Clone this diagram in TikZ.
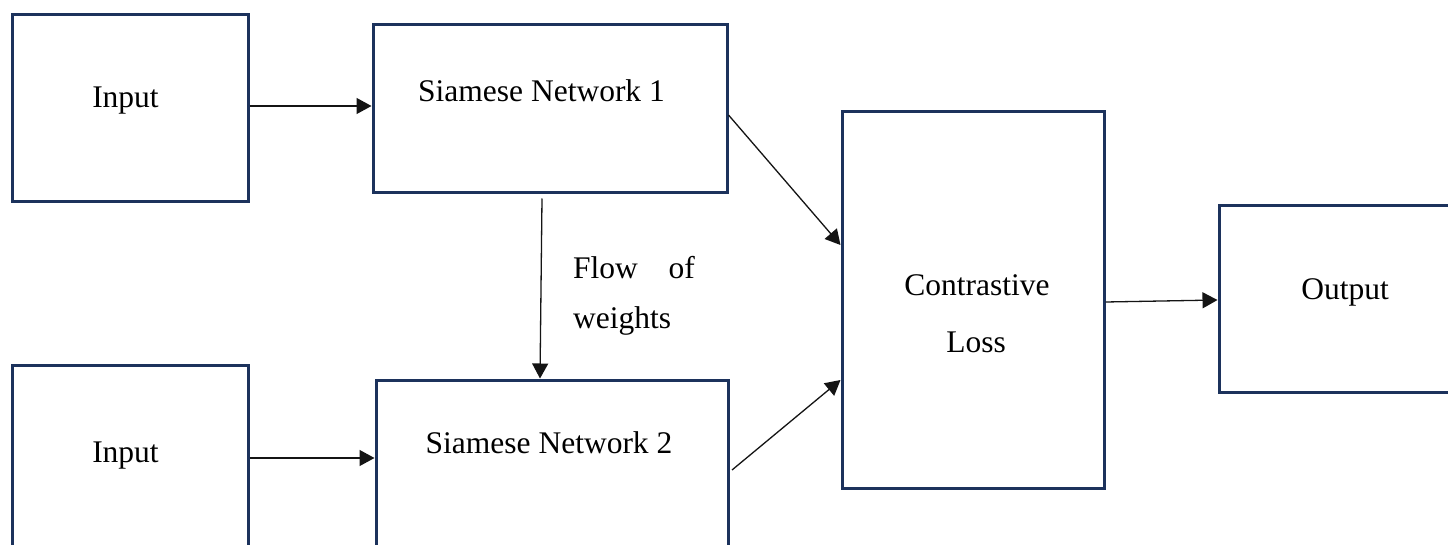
\documentclass[tikz,border=0pt]{standalone}
\usepackage{fontspec}
\setmainfont{Liberation Serif}
\usetikzlibrary{arrows.meta,calc}
\definecolor{boxblue}{RGB}{28,50,92}
\definecolor{arrgray}{RGB}{20,20,20}
\tikzset{
  box/.style={draw=boxblue, line width=3pt, fill=none, inner sep=0pt},
  arr/.style={draw=arrgray, line width=1.3pt, -{Triangle[length=15pt,width=16pt]}},
  lbl/.style={inner sep=0pt, anchor=base, font={\fontsize{31.5}{38}\selectfont}}
}
\begin{document}
\begin{tikzpicture}[x=1pt,y=-1pt]
\clip (0,0) rectangle (1448,545);
\fill[white] (0,0) rectangle (1448,545);
% boxes
\node[box, minimum width=236pt, minimum height=187pt] (in1) at (130,108.5) {};
\node[box, minimum width=354pt, minimum height=168pt] (sn1) at (550,109) {};
\node[box, minimum width=262pt, minimum height=376pt] (cl) at (973,300) {};
\node[box, minimum width=260pt, minimum height=186pt] (out) at (1349,299) {};
\node[box, minimum width=236pt, minimum height=200pt] (in2) at (130,465) {};
\node[box, minimum width=352pt, minimum height=190pt] (sn2) at (552,475) {};
% texts
\node[lbl] (tin1) at (125.5,108) {Input};
\node[lbl] (tsn1) at (541.5,102) {Siamese Network 1};
\node[lbl] (tin2) at (125.5,462) {Input};
\node[lbl] (tsn2) at (549,453) {Siamese Network 2};
\node[lbl] (tout) at (1345,299) {Output};
\node[lbl] (tcl1) at (977,296) {Contrastive};
\node[lbl] (tcl2) at (976,352) {Loss};
\node[lbl, anchor=base west] (tfl1) at (573,279) {Flow};
\node[lbl, anchor=base east] (tfl2) at (695,279) {of};
\node[lbl, anchor=base west] (tfl3) at (573,328) {weights};
% connectors
\draw[arr] ([yshift=2.5pt]in1.east) -- ([yshift=2.5pt]in1.east -| sn1.west);
\draw[arr] ([yshift=7pt]in2.east) -- ([yshift=7pt]in2.east -| sn2.west);
\draw[arr] ([xshift=-8pt,yshift=-4pt]sn1.south) -- ([xshift=-12pt]sn2.north);
\draw[arr] ([yshift=-6pt]sn1.east) -- ([yshift=55pt]cl.west);
\draw[arr] ([xshift=2.5pt,yshift=5pt]sn2.east) -- ([yshift=-80pt]cl.west);
\draw[arr] ([yshift=-2pt]cl.east) -- ([yshift=-1pt]out.west);
\end{tikzpicture}
\end{document}
